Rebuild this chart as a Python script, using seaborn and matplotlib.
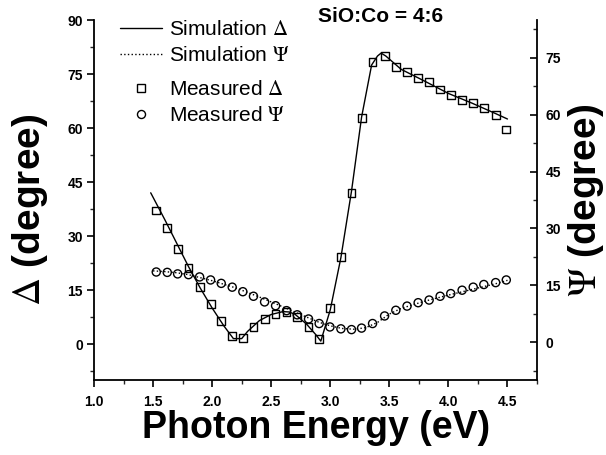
import numpy as np
import pandas as pd
import matplotlib
matplotlib.use("Agg")
import matplotlib.pyplot as plt
import seaborn as sns
from matplotlib.ticker import MultipleLocator, FixedLocator
from matplotlib.lines import Line2D

# ---------------- data ----------------
energy = [1.527, 1.62, 1.708, 1.80, 1.894, 1.987, 2.077, 2.17, 2.26, 2.35, 2.444,
          2.537, 2.63, 2.72, 2.816, 2.906, 2.997, 3.09, 3.18, 3.265, 3.358, 3.46,
          3.555, 3.65, 3.744, 3.837, 3.93, 4.02, 4.116, 4.21, 4.30, 4.40, 4.49]
meas_delta = [37.1, 32.3, 26.4, 21.2, 15.8, 11.0, 6.4, 2.3, 1.75, 4.7, 6.9,
              8.3, 8.9, 7.6, 4.7, 1.4, 10.1, 24.2, 42.0, 62.7, 78.4, 80.0,
              77.0, 75.6, 73.9, 72.7, 70.7, 69.2, 67.8, 67.0, 65.6, 63.6, 59.6]
meas_psi = [18.5, 18.4, 18.0, 17.8, 17.2, 16.4, 15.5, 14.5, 13.3, 12.1, 10.6,
            9.6, 8.3, 7.2, 6.1, 4.9, 4.0, 3.5, 3.3, 3.7, 4.9, 6.9,
            8.4, 9.5, 10.4, 11.1, 12.1, 12.8, 13.7, 14.5, 15.2, 15.7, 16.4]

sim_delta_x = [1.48, 1.6, 1.7, 1.8, 1.9, 2.0, 2.1, 2.18, 2.25, 2.3, 2.4, 2.5, 2.6,
               2.65, 2.7, 2.8, 2.88, 2.92, 3.0, 3.09, 3.18, 3.265, 3.35, 3.40,
               3.43, 3.47, 3.6, 3.8, 4.0, 4.2, 4.4, 4.5]
sim_delta = [42.0, 34.5, 28.0, 21.5, 15.5, 10.0, 5.0, 1.5, 1.5, 3.5, 6.5, 8.2, 9.0,
             8.9, 8.3, 5.5, 2.5, 0.8, 9.5, 24.0, 42.5, 63.0, 77.5, 80.0,
             80.8, 80.0, 76.3, 73.0, 69.6, 66.9, 64.0, 62.5]

sim_psi_x = [1.5, 1.6, 1.7, 1.8, 1.9, 2.0, 2.2, 2.4, 2.6, 2.8, 2.9, 3.0, 3.1, 3.2,
             3.3, 3.4, 3.5, 3.6, 3.8, 4.0, 4.2, 4.4, 4.5]
sim_psi = [18.8, 18.6, 18.3, 17.8, 17.0, 16.2, 14.3, 11.9, 9.3, 6.6, 5.3, 4.3, 3.6, 3.4,
           3.8, 5.2, 7.4, 8.9, 10.8, 12.4, 13.9, 15.4, 16.3]

x_ticks = [1.0, 1.5, 2.0, 2.5, 3.0, 3.5, 4.0, 4.5]
left_ticks = [0, 15, 30, 45, 60, 75, 90]
right_ticks = [0, 15, 30, 45, 60, 75]

# ---------------- style ----------------
sns.set_theme(style="white")
plt.rcParams['font.family'] = ['Liberation Sans', 'DejaVu Sans']
plt.rcParams['mathtext.fontset'] = 'stix'
plt.rcParams['text.color'] = 'black'

fig = plt.figure(figsize=(6.06, 4.55), dpi=100)
ax = fig.add_axes([94/606, 1-380/455, (537-94)/606, 360/455])
ax2 = ax.twinx()

sns.lineplot(x=sim_delta_x, y=sim_delta, ax=ax, color='black', lw=1.0)
sns.lineplot(x=sim_psi_x, y=sim_psi, ax=ax2, color='black', lw=1.0, linestyle=':')
sns.scatterplot(x=energy, y=meas_delta, ax=ax, marker='s', s=32,
                facecolor='none', edgecolor='black', linewidth=1.0, zorder=3)
sns.scatterplot(x=energy, y=meas_psi, ax=ax2, marker='o', s=34,
                facecolor='none', edgecolor='black', linewidth=1.0, zorder=3)

ax.set_xlim(1.0, 4.75)
ax.set_ylim(-10, 90)
ax2.set_ylim(-10, 85)

ax.xaxis.set_major_locator(FixedLocator(x_ticks))
ax.xaxis.set_minor_locator(MultipleLocator(0.25))
ax.yaxis.set_major_locator(FixedLocator(left_ticks))
ax.yaxis.set_minor_locator(MultipleLocator(7.5))
ax2.yaxis.set_major_locator(FixedLocator(right_ticks))
ax2.yaxis.set_minor_locator(MultipleLocator(7.5))
ax.set_xticklabels([f"{v:.1f}" for v in x_ticks])
ax.set_yticklabels([str(v) for v in left_ticks])
ax2.set_yticklabels([str(v) for v in right_ticks])

for a in (ax, ax2):
    for s in a.spines.values():
        s.set_color('black')
        s.set_linewidth(1.3)
    a.spines['top'].set_visible(False)
ax.spines['right'].set_visible(False)
ax2.spines['left'].set_visible(False)
ax2.spines['bottom'].set_visible(False)

ax.tick_params(axis='x', which='major', direction='out', length=5, width=1.2,
               pad=6, labelsize=10, colors='black', bottom=True)
ax.tick_params(axis='x', which='minor', direction='out', length=3, width=1.0, bottom=True)
ax.tick_params(axis='y', which='major', direction='out', length=5, width=1.2,
               pad=3, labelsize=10, colors='black', left=True)
ax.tick_params(axis='y', which='minor', direction='out', length=3, width=1.0, left=True)
ax2.tick_params(axis='y', which='major', direction='in', length=5, width=1.2,
                pad=6, labelsize=10, colors='black', right=True)
ax2.tick_params(axis='y', which='minor', direction='in', length=3, width=1.0, right=True)
for lab in ax.get_xticklabels() + ax.get_yticklabels() + ax2.get_yticklabels():
    lab.set_fontweight('bold')

ax.set_xlabel('Photon Energy (eV)', fontsize=27, fontweight='bold', color='black')
ax.xaxis.set_label_coords(0.502, -0.083)
ax.set_ylabel(r'$\Delta$ (degree)', fontsize=28, fontweight='bold', color='black')
ax.yaxis.set_label_coords(-0.100, 0.472)
ax2.set_ylabel(r'$\Psi$ (degree)', fontsize=28, fontweight='bold', color='black')
ax2.yaxis.set_label_coords(1.066, 0.50)

fig.text(318/606, 1-16/455, 'SiO:Co = 4:6', fontsize=15, fontweight='bold',
         ha='left', va='center', color='black')

h1 = Line2D([], [], color='black', lw=1.0, ls='-')
h2 = Line2D([], [], color='black', lw=1.0, ls=':')
h3 = Line2D([], [], color='black', ls='none', marker='s', mfc='none', mec='black', ms=5.5, mew=1.0)
h4 = Line2D([], [], color='black', ls='none', marker='o', mfc='none', mec='black', ms=5.8, mew=1.0)
leg1 = ax2.legend([h1, h2], [r'Simulation $\Delta$', r'Simulation $\Psi$'],
                  loc='upper left', bbox_to_anchor=(120/606, 1-20/455),
                  bbox_transform=fig.transFigure, frameon=False, fontsize=15,
                  handlelength=2.0, handletextpad=0.35, labelspacing=0.33,
                  borderpad=0, borderaxespad=0, labelcolor='black')
ax2.add_artist(leg1)
leg2 = ax2.legend([h3, h4], [r'Measured $\Delta$', r'Measured $\Psi$'],
                  loc='upper left', bbox_to_anchor=(120/606, 1-80/455),
                  bbox_transform=fig.transFigure, frameon=False, fontsize=15,
                  handlelength=2.0, handletextpad=0.35, labelspacing=0.33,
                  borderpad=0, borderaxespad=0, labelcolor='black')

fig.savefig('out.png', dpi=100, facecolor='white')
